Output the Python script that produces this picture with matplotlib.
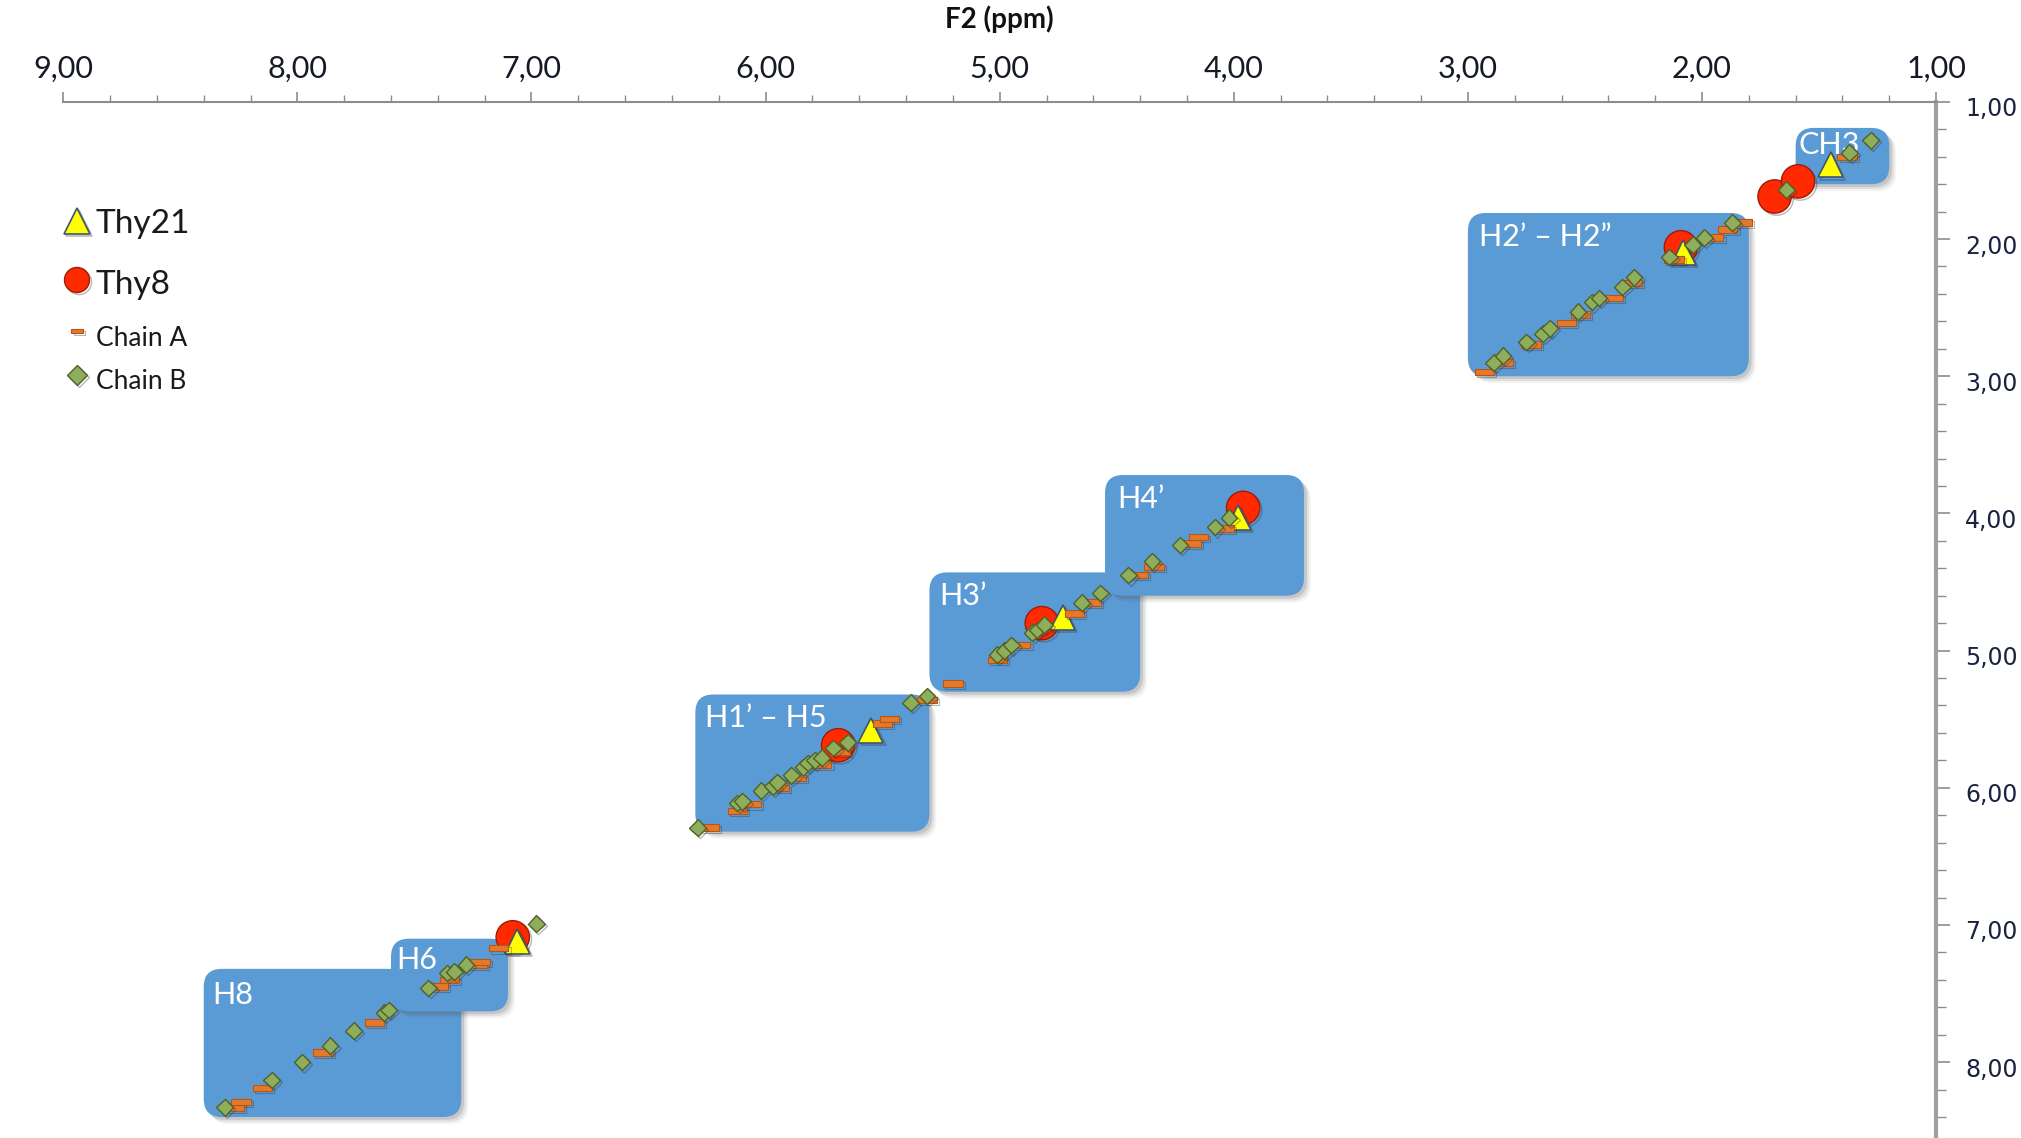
import matplotlib
matplotlib.use("Agg")
import matplotlib.pyplot as plt
import matplotlib.patheffects as pe
import matplotlib.transforms as mtransforms
from matplotlib.patches import FancyBboxPatch
from matplotlib.path import Path
from matplotlib.ticker import MultipleLocator, FuncFormatter

# ---- chemical shifts (ppm): F2 (horizontal) and F1 (vertical) ----
chain_b_f2 = [8.31, 8.11, 7.98, 7.86, 7.76, 7.63, 7.61, 7.44, 7.36, 7.33, 7.28, 6.98,
              6.29, 6.12, 6.10, 6.02, 5.97, 5.95, 5.89, 5.84, 5.82, 5.79, 5.76, 5.71,
              5.65, 5.38, 5.31,
              5.01, 4.98, 4.95, 4.86, 4.84, 4.81, 4.65, 4.57, 4.45, 4.35,
              4.23, 4.08, 4.02,
              2.89, 2.85, 2.75, 2.68, 2.65, 2.53, 2.47, 2.44, 2.34, 2.29, 2.14, 2.04,
              1.99, 1.87, 1.64, 1.37, 1.28]
chain_b_f1 = [8.33, 8.13, 8.00, 7.88, 7.77, 7.64, 7.62, 7.46, 7.35, 7.34, 7.29, 6.99,
              6.29, 6.11, 6.10, 6.02, 5.99, 5.96, 5.91, 5.85, 5.82, 5.80, 5.78, 5.71,
              5.67, 5.38, 5.33,
              5.03, 5.00, 4.96, 4.87, 4.85, 4.81, 4.65, 4.58, 4.45, 4.35,
              4.23, 4.10, 4.03,
              2.90, 2.85, 2.75, 2.69, 2.65, 2.53, 2.46, 2.43, 2.35, 2.28, 2.13, 2.04,
              1.99, 1.88, 1.64, 1.37, 1.28]

chain_a_f2 = [8.27, 8.24, 8.15, 7.89, 7.67, 7.40, 7.35, 7.23, 7.22, 7.14,
              6.24, 6.12, 6.06, 5.94, 5.87, 5.76, 5.68, 5.50, 5.47, 5.31,
              5.20, 5.01, 4.91, 4.68, 4.61, 4.41, 4.34, 4.18, 4.15, 4.04,
              2.93, 2.85, 2.73, 2.58, 2.52, 2.38, 2.30, 2.12, 1.95, 1.89, 1.83, 1.38]
chain_a_f1 = [8.33, 8.29, 8.19, 7.93, 7.71, 7.45, 7.40, 7.29, 7.27, 7.17,
              6.29, 6.17, 6.12, 6.00, 5.93, 5.83, 5.74, 5.53, 5.50, 5.36,
              5.24, 5.07, 4.96, 4.73, 4.65, 4.45, 4.39, 4.22, 4.17, 4.11,
              2.97, 2.90, 2.77, 2.61, 2.55, 2.43, 2.32, 2.15, 1.99, 1.93, 1.88, 1.40]

thy8_f2 = [7.08, 5.69, 4.82, 3.96, 2.09, 1.69, 1.59]
thy8_f1 = [7.09, 5.69, 4.80, 3.96, 2.06, 1.69, 1.58]

thy21_f2 = [7.06, 5.55, 4.73, 3.98, 2.08, 1.45]
thy21_f1 = [7.12, 5.58, 4.76, 4.03, 2.10, 1.46]

series_names = ["Thy21", "Thy8", "Chain A", "Chain B"]

# ---- assignment regions: name, F2 range, F1 range ----
region_names = ["CH3", "H2’ – H2”", "H1’ – H5", "H3’", "H4’", "H8", "H6"]
region_f2 = [(1.20, 1.60), (1.80, 3.00), (5.30, 6.30), (4.40, 5.30), (3.70, 4.55),
             (7.30, 8.40), (7.10, 7.60)]
region_f1 = [(1.19, 1.60), (1.81, 3.00), (5.32, 6.32), (4.43, 5.30), (3.72, 4.60),
             (7.32, 8.40), (7.10, 7.63)]
label_offsets = [(2, -2), (8, -7), (7, -7), (7, -7), (9, -7), (6, -9), (4, -5)]

FIG_W, FIG_H, DPI = 20.21, 11.38, 100
AX_RECT = [0.0313, 0.0, 0.958 - 0.0313, 0.9105]
XLIM = (9.0, 1.0)
YLIM = (8.553, 1.0)

BOX_BLUE = "#5B9BD5"
AXIS_GREY = "#8C8C8C"
LABEL_FONT = ["Lato", "DejaVu Sans"]

# marker styles for each series
dash = Path([(-1.0, -0.33), (1.0, -0.33), (1.0, 0.33), (-1.0, 0.33), (-1.0, -0.33)],
            [Path.MOVETO, Path.LINETO, Path.LINETO, Path.LINETO, Path.CLOSEPOLY])
STYLE = {
    "Thy21": dict(marker="^", mfc="#FFFF00", mec="#3E5470", mew=1.2),
    "Thy8": dict(marker="o", mfc="#FF2A00", mec="#9E1B0B", mew=1.0),
    "Chain A": dict(marker=dash, mfc="#E5792A", mec="#B3561A", mew=0.8),
    "Chain B": dict(marker="D", mfc="#8FAE5C", mec="#4F6228", mew=1.0),
}

fig = plt.figure(figsize=(FIG_W, FIG_H), dpi=DPI)
ax = fig.add_axes(AX_RECT)
ax.set_xlim(*XLIM)
ax.set_ylim(*YLIM)

# pixel scale of each axis, used to keep box corners circular
px_per_x = FIG_W * DPI * AX_RECT[2] / abs(XLIM[0] - XLIM[1])
px_per_y = FIG_H * DPI * AX_RECT[3] / abs(YLIM[0] - YLIM[1])
corner_px = 18.0
rounding = corner_px / px_per_x
aspect = px_per_x / px_per_y

box_shadow = [pe.SimplePatchShadow(offset=(2, -2), shadow_rgbFace="#555555", alpha=0.18),
              pe.SimplePatchShadow(offset=(3.5, -3.5), shadow_rgbFace="#555555", alpha=0.12),
              pe.SimplePatchShadow(offset=(5, -5), shadow_rgbFace="#555555", alpha=0.07),
              pe.Normal()]

for i, (name, (x0, x1), (y0, y1)) in enumerate(zip(region_names, region_f2, region_f1)):
    patch = FancyBboxPatch((x0, y0), x1 - x0, y1 - y0,
                           boxstyle=f"round,pad=0,rounding_size={rounding}",
                           mutation_aspect=aspect, facecolor=BOX_BLUE,
                           edgecolor="none", zorder=1 + i * 0.01)
    patch.set_path_effects(box_shadow)
    ax.add_patch(patch)
    ax.annotate(name, xy=(x1, y0), xytext=label_offsets[i], textcoords="offset points",
                ha="left", va="top", color="white", fontsize=22, family=LABEL_FONT,
                zorder=1.5 + i * 0.01)

marker_shadow = [pe.SimpleLineShadow(offset=(1.5, -1.5), shadow_color="#333333", alpha=0.35),
                 pe.Normal()]

ax.plot(thy8_f2, thy8_f1, ls="none", ms=24, zorder=3, path_effects=marker_shadow,
        **STYLE["Thy8"])
ax.plot(thy21_f2, thy21_f1, ls="none", ms=18, zorder=4, path_effects=marker_shadow,
        **STYLE["Thy21"])
ax.plot(chain_a_f2, chain_a_f1, ls="none", ms=14, zorder=5, path_effects=marker_shadow,
        **STYLE["Chain A"])
ax.plot(chain_b_f2, chain_b_f1, ls="none", ms=8.5, zorder=6, path_effects=marker_shadow,
        **STYLE["Chain B"])

# ---- axes styling ----
for side in ("left", "bottom"):
    ax.spines[side].set_visible(False)
ax.spines["top"].set_color(AXIS_GREY)
ax.spines["top"].set_linewidth(1.5)
ax.spines["right"].set_color("#A0A0A0")
ax.spines["right"].set_linewidth(3.0)

ax.xaxis.tick_top()
ax.yaxis.tick_right()
ax.xaxis.set_major_locator(MultipleLocator(1.0))
ax.xaxis.set_minor_locator(MultipleLocator(0.2))
ax.yaxis.set_major_locator(MultipleLocator(1.0))
ax.yaxis.set_minor_locator(MultipleLocator(0.2))
comma_fmt = FuncFormatter(lambda v, p: f"{v:.2f}".replace(".", ","))
ax.xaxis.set_major_formatter(comma_fmt)
ax.yaxis.set_major_formatter(comma_fmt)

ax.tick_params(axis="x", which="major", direction="out", length=7, width=1.2,
               color=AXIS_GREY, pad=6.5, labelsize=22, labelcolor="#151a26")
ax.tick_params(axis="x", which="minor", direction="out", length=5, width=1.0,
               color=AXIS_GREY)
ax.tick_params(axis="y", which="major", direction="out", length=10, width=1.2,
               color=AXIS_GREY, pad=11, labelsize=17, labelcolor="#1b2340")
ax.tick_params(axis="y", which="minor", direction="out", length=7, width=1.0,
               color=AXIS_GREY)
for lab in ax.get_xticklabels():
    lab.set_family(LABEL_FONT)

# right-hand labels sit a few pixels below their ticks
y_label_shift = mtransforms.ScaledTranslation(0, -5 / DPI, fig.dpi_scale_trans)
for tick in ax.yaxis.get_major_ticks():
    tick.label2.set_family(["DejaVu Sans"])
    tick.label2.set_transform(tick.label2.get_transform() + y_label_shift)

ax.xaxis.set_label_position("top")
ax.set_xlabel("F2 (ppm)", fontsize=20, fontweight="bold", family=LABEL_FONT,
              color="#111111", labelpad=19.5)

# ---- key, placed in figure pixels (from the top-left corner) ----
key_marker_x = 77
key_text_x = 96
key_rows_y = [221, 282, 336, 379]
key_marker_dy = [0, -2, -5, -4]
key_marker_size = [19, 18, 8, 10]
key_font_size = [24, 24, 19, 19]
fig_w_px, fig_h_px = FIG_W * DPI, FIG_H * DPI
for name, ry, mdy, ms, fs in zip(series_names, key_rows_y, key_marker_dy,
                                  key_marker_size, key_font_size):
    fig.add_artist(plt.Line2D([key_marker_x / fig_w_px], [1 - (ry + mdy) / fig_h_px],
                              transform=fig.transFigure, ls="none", ms=ms,
                              path_effects=marker_shadow, **STYLE[name]))
    fig.text(key_text_x / fig_w_px, 1 - ry / fig_h_px, name, ha="left",
             va="center_baseline", fontsize=fs, family=LABEL_FONT, color="#1a1a1a")

fig.savefig("out.png", dpi=DPI)
